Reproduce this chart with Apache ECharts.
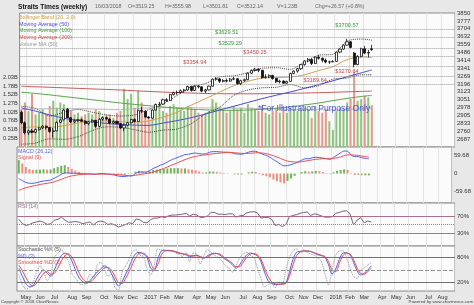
<!DOCTYPE html>
<html><head><meta charset="utf-8">
<script src="https://cdn.jsdelivr.net/npm/echarts@6/dist/echarts.min.js"></script>
<style>html,body{margin:0;padding:0;background:#e8e8e8}#c{width:474px;height:305px}</style>
</head><body><div id="c"></div>
<script>
// ---------- categories ----------
const START_DATE = Date.UTC(2016, 3, 22);   // first weekly bar (Fri 22 Apr 2016)
const WEEK_COUNT = 123;                     // data weeks + future weeks to Aug 2018
const MONTHS = ['Jan','Feb','Mar','Apr','May','Jun','Jul','Aug','Sep','Oct','Nov','Dec'];

// ---------- weekly OHLC ----------
const opens = [2935,2838,2745,2763,2750,2775,2791,2806,2793,2757,2763,2841,2864,2962,2885,2845,2858,2866,2852,2830,2847,2860,2805,2870,2885,2872,2835,2850,2830,2790,2815,2838,2868,2850,2950,2945,2890,2881,2955,3006,3010,3050,3042,3097,3116,3117,3133,3140,3172,3136,3175,3169,3130,3141,3175,3240,3242,3220,3227,3222,3240,3244,3198,3226,3235,3295,3320,3332,3322,3254,3260,3274,3246,3215,3222,3203,3219,3292,3314,3336,3374,3407,3422,3385,3443,3433,3415,3398,3400,3403,3490,3517,3554,3585,3480,3375,3450,3520,3480,3519.25];
const highs = [2950,2850,2775,2780,2785,2800,2815,2812,2800,2790,2850,2875,2965,2975,2890,2870,2875,2880,2860,2855,2870,2865,2880,2895,2895,2880,2860,2858,2835,2830,2845,2875,2880,2960,2985,2950,2900,2960,3015,3030,3060,3065,3105,3125,3135,3145,3150,3180,3180,3185,3185,3172,3150,3180,3245,3260,3250,3240,3245,3250,3260,3248,3235,3245,3300,3330,3345,3340,3325,3285,3285,3280,3250,3235,3230,3225,3300,3320,3345,3380,3415,3435,3430,3450,3465,3440,3430,3410,3415,3495,3525,3560,3612,3590,3490,3460,3530,3545,3510,3555.98];
const lows = [2825,2730,2725,2740,2740,2765,2780,2775,2745,2700,2760,2835,2860,2880,2835,2835,2845,2845,2820,2815,2840,2790,2800,2855,2860,2825,2825,2825,2780,2760,2805,2830,2840,2845,2930,2880,2870,2875,2950,2990,3005,3030,3040,3090,3095,3105,3115,3135,3125,3130,3155,3120,3110,3135,3170,3225,3205,3210,3210,3215,3230,3190,3185,3215,3230,3290,3310,3305,3245,3245,3250,3235,3205,3200,3195,3195,3215,3285,3300,3325,3365,3395,3370,3380,3420,3395,3385,3380,3395,3400,3480,3510,3550,3525,3350,3370,3440,3470,3440,3501.81];
const closes = [2838,2745,2763,2750,2775,2791,2806,2793,2757,2763,2841,2864,2955,2885,2845,2858,2866,2852,2830,2847,2860,2805,2870,2885,2872,2835,2850,2830,2790,2815,2838,2868,2850,2950,2945,2890,2881,2955,3006,3010,3050,3042,3097,3116,3117,3133,3140,3172,3136,3175,3169,3130,3141,3175,3240,3242,3220,3227,3222,3240,3244,3198,3226,3235,3295,3320,3332,3322,3254,3260,3274,3246,3215,3222,3203,3219,3292,3314,3336,3374,3407,3422,3385,3443,3433,3415,3398,3400,3403,3490,3517,3554,3585,3533,3375,3450,3520,3480,3486,3512.14];
// weekly volume, billions
const volumes = [1.10,1.30,1.05,1.55,0.95,1.00,1.10,0.95,1.20,1.35,1.15,1.30,1.25,1.10,1.05,0.95,1.00,0.90,0.95,1.00,0.95,1.10,1.05,0.90,0.95,0.95,0.85,1.00,1.05,1.70,1.40,1.55,1.15,1.65,1.30,0.95,0.80,1.10,1.25,1.20,1.05,1.00,1.20,1.25,1.15,1.10,1.05,1.20,1.15,1.10,1.00,0.95,1.00,1.05,1.40,1.30,1.15,1.10,1.00,1.05,1.20,1.10,1.15,1.00,1.25,1.15,1.10,1.05,1.20,1.00,0.95,1.05,1.10,1.00,1.10,1.00,1.15,1.10,1.05,1.10,1.15,1.10,0.85,1.20,1.05,1.00,1.10,0.75,0.50,1.05,1.15,1.10,1.30,1.40,2.20,1.35,1.40,1.50,1.45,1.22];

// ---------- overlays, sampled every 4 weeks ----------
const overlayIdx = [0,4,8,12,16,20,24,28,32,36,40,44,48,52,56,60,64,68,72,76,80,84,88,92,96,99];
const ma50  = [2975,2945,2910,2880,2860,2845,2832,2822,2816,2814,2835,2858,2885,2918,2955,2990,3025,3060,3092,3122,3155,3190,3225,3262,3298,3325];
const ma100 = [3120,3108,3095,3080,3065,3050,3035,3020,3007,2995,2983,2972,2963,2957,2953,2952,2955,2962,2972,2985,3002,3020,3042,3062,3080,3090];
const ma200 = [3175,3170,3165,3160,3155,3150,3145,3140,3133,3127,3121,3116,3112,3108,3106,3105,3105,3106,3107,3109,3112,3115,3119,3123,3127,3130];
const bbMid = [2790,2800,2795,2810,2835,2850,2855,2848,2842,2855,2890,2935,3000,3060,3120,3180,3220,3250,3255,3260,3280,3320,3355,3420,3445,3440];
const bbUp  = [2990,2970,2900,2935,2960,2935,2910,2900,2910,2960,3010,3090,3170,3200,3260,3270,3300,3340,3345,3330,3400,3460,3470,3590,3610,3600];
const bbLow = [2640,2650,2690,2685,2710,2765,2800,2796,2774,2750,2770,2780,2830,2920,2980,3090,3140,3160,3165,3190,3160,3180,3240,3250,3280,3280];
const volMA = [1.10,1.11,1.12,1.12,1.12,1.11,1.10,1.09,1.12,1.14,1.15,1.15,1.15,1.14,1.14,1.13,1.13,1.12,1.11,1.10,1.10,1.09,1.08,1.09,1.12,1.14];

// ---------- MACD ----------
const macd = [-17,-24,-30,-33,-33,-31,-28,-25,-24,-22,-16,-10,-3,2,2,1,1,0,-1,-1,-1,-3,-2,0,0,-2,-3,-5,-8,-10,-10,-8,-8,0,5,5,5,10,17,22,28,32,39,45,50,55,59,64,65,68,69,67,66,67,72,74,74,73,72,72,71,67,66,65,68,72,75,75,70,65,61,55,47,40,32,26,27,30,34,39,45,50,50,53,55,54,52,50,48,55,62,70,76,75,62,57,57,53,51,50];
const signal = [-57,-52,-48,-45,-42,-40,-37,-35,-33,-31,-28,-24,-20,-15,-11,-8,-6,-4,-3,-2,-2,-2,-2,-2,-2,-2,-2,-3,-4,-5,-6,-7,-7,-6,-4,-2,0,2,5,9,13,17,22,27,32,37,42,47,51,55,58,60,62,63,65,67,68,69,70,71,71,70,69,68,68,68,69,70,70,69,67,64,60,56,51,46,42,40,39,39,40,42,44,46,48,49,50,50,50,51,53,56,60,63,63,62,61,59,57,56];
const hist = [45,34,22,15,12,13,13,14,13,14,18,22,26,28,22,15,10,6,3,2,1,-1,0,2,2,0,-1,-2,-4,-5,-4,-1,-1,6,9,7,5,8,12,13,15,15,17,18,18,18,17,17,14,13,11,7,4,4,7,7,6,4,2,1,0,-3,-3,-3,0,4,6,5,-2,-6,-9,-13,-20,-26,-30,-33,-25,-17,-8,0,5,8,6,7,9,8,5,2,-2,4,9,12,14,12,-2,-5,-4,-6,-6,-6];

// ---------- RSI / Stochastic ----------
const rsi = [62,52,48,50,54,56,58,55,50,52,60,62,67,60,55,56,57,55,52,54,56,49,56,58,56,50,52,49,44,47,50,54,52,63,61,55,54,61,65,65,68,66,70,72,72,73,74,76,70,74,72,66,67,70,78,78,74,74,73,75,75,67,70,71,77,79,80,77,65,66,67,62,48,50,45,50,68,71,73,76,78,79,71,75,73,70,67,67,68,76,78,81,82,75,49,60,66,54,58,56];
const stochK = [40,15,5,8,20,45,60,45,25,40,80,90,98,82,70,40,30,18,15,22,40,30,62,68,55,35,40,8,2,45,60,75,95,98,85,82,55,38,60,100,98,95,97,95,90,88,82,92,70,90,88,65,85,98,92,85,80,72,60,55,45,60,78,88,92,85,80,55,30,10,15,20,8,22,18,50,80,95,100,90,98,92,88,85,78,70,40,15,50,85,95,96,80,55,35,30,48,55,62,68];
const stochD = [54,35,18,10,12,28,42,50,42,35,50,70,85,90,86,70,48,30,22,18,25,35,45,52,60,55,42,25,12,22,40,57,78,90,92,88,80,55,48,75,95,97,96,96,93,90,88,86,82,84,85,80,78,84,88,90,88,82,75,70,62,54,62,75,86,90,88,84,70,45,25,18,15,16,17,20,45,75,92,94,95,95,94,90,86,84,80,62,40,52,75,90,91,86,68,48,38,42,50,60];
const stochSD = [62,48,32,18,12,18,30,42,46,40,42,55,72,84,88,80,62,42,28,22,22,28,38,47,55,56,50,35,20,18,30,46,65,82,90,90,84,68,52,62,85,95,96,95,94,91,89,87,84,83,84,82,79,81,86,89,89,85,78,72,66,58,58,68,80,88,89,86,76,55,35,22,17,16,16,18,35,62,84,93,95,95,94,91,88,85,82,70,50,46,65,84,90,88,75,55,42,40,46,54];

// ---------- tick labels & annotations ----------
const priceTicks = [2687,2760,2833,2905,2978,3051,3123,3196,3269,3341,3414,3486,3559,3632,3704,3777,3850];
const volTicks = ['0.25B','0.51B','0.76B','1.02B','1.27B','1.52B','1.78B','2.03B'];
const levels = [3700.57,3629.51,3529.29,3450.25,3354.94,3270.64,3189.64];
const levelLabelWeek = [92,58,59,66,49,92,83];

// ---------- build ----------
const weeks = [];
for (let i = 0; i < WEEK_COUNT; i++) weeks.push(new Date(START_DATE + i * 7 * 864e5));
const cats = weeks.map(d => d.toISOString().slice(0, 10));
const monthStart = weeks.map((d, i) => i > 0 && d.getUTCMonth() !== weeks[i - 1].getUTCMonth());
const lastClose = closes[closes.length - 1];
const FONT = 'Liberation Sans, Arial, sans-serif';

const P_MIN = 2614.3125, P_INT = 72.6875, V_INT = 0.25375;
const M_INT = 9.946667;

function xAxis(gi, labels) {
  return {
    type: 'category', gridIndex: gi, data: cats, boundaryGap: true,
    axisLine: {show: false}, axisTick: {show: false},
    axisLabel: labels ? {
      show: true, interval: (i) => monthStart[i], fontSize: 5.6, color: '#333', margin: 3, fontFamily: FONT,
      formatter: (v, i) => { const d = weeks[i]; return d.getUTCMonth() === 0 ? String(d.getUTCFullYear()) : MONTHS[d.getUTCMonth()]; }
    } : {show: false},
    splitLine: {show: true, interval: (i) => monthStart[i], lineStyle: {color: '#e4e4e4', width: 1}}
  };
}
const lab = {fontSize: 6, color: '#333', fontFamily: FONT, margin: 2};
function yBase(gi, pos, extra) {
  return Object.assign({type: 'value', gridIndex: gi, position: pos, axisLine: {show: false}, axisTick: {show: false}, splitLine: {show: false}}, extra);
}
const pairs = (vals) => overlayIdx.map((k, j) => [cats[k], vals[j]]);
const line = (name, vals, xi, yi, color, type, width) => ({
  name, type: 'line', xAxisIndex: xi, yAxisIndex: yi, data: vals, symbol: 'none', smooth: 0.3, silent: true,
  lineStyle: {color, width: width || 1, type: type || 'solid'}, z: 4
});

const candleData = opens.map((o, i) => [o, closes[i], lows[i], highs[i]]);
const volData = volumes.map((v, i) => ({value: v, itemStyle: {color: closes[i] >= opens[i] ? '#8cc47c' : '#e5988a'}}));
const histData = hist.map((h, i) => ({value: h, itemStyle: {color: (i === 0 || h >= hist[i - 1]) ? '#6fb455' : '#ee8e7c'}}));

const option = {
  animation: false,
  backgroundColor: '#e8e8e8',
  grid: [
    {left: 17, right: 19, top: 13, height: 134, show: true, backgroundColor: '#fbfbfb', borderColor: '#8a8a8a', borderWidth: 1},
    {left: 17, right: 19, top: 147, height: 56, show: true, backgroundColor: '#fbfbfb', borderColor: '#8a8a8a', borderWidth: 1},
    {left: 17, right: 19, top: 203, height: 43, show: true, backgroundColor: '#fbfbfb', borderColor: '#8a8a8a', borderWidth: 1},
    {left: 17, right: 19, top: 246, height: 45, show: true, backgroundColor: '#fbfbfb', borderColor: '#8a8a8a', borderWidth: 1}
  ],
  xAxis: [xAxis(0, false), xAxis(1, false), xAxis(2, false), xAxis(3, true)],
  yAxis: [
    yBase(0, 'right', {min: P_MIN, max: 3850, interval: P_INT, axisLabel: Object.assign({}, lab, {
      formatter: (v) => { const k = Math.round((v - P_MIN) / P_INT) - 1; return k >= 0 && k < priceTicks.length ? String(priceTicks[k]) : ''; }})}),
    yBase(0, 'left', {min: 0, max: 3.914, interval: V_INT, axisLabel: Object.assign({}, lab, {fontSize: 5.6,
      formatter: (v) => { const k = Math.round(v / V_INT) - 1; return k >= 0 && k < volTicks.length ? volTicks[k] : ''; }})}),
    yBase(1, 'right', {min: -10 * M_INT, max: 9 * M_INT, interval: M_INT, axisLabel: Object.assign({}, lab, {
      formatter: (v) => Math.abs(v) < 1 ? '0' : (Math.abs(Math.abs(v) - 59.68) < 0.5 ? (v < 0 ? '-59.68' : '59.68') : '')})}),
    yBase(2, 'right', {min: 0, max: 100, interval: 10, axisLabel: Object.assign({}, lab, {
      formatter: (v) => (v === 30 || v === 70) ? v + '%' : ''})}),
    yBase(3, 'right', {min: 0, max: 107, interval: 10, axisLabel: Object.assign({}, lab, {
      formatter: (v) => (v === 20 || v === 80) ? v + '%' : ''})})
  ],
  series: [
    {name: 'Volume', type: 'bar', xAxisIndex: 0, yAxisIndex: 1, data: volData, barWidth: 2, silent: true, z: 1},
    line('Volume MA', pairs(volMA), 0, 1, '#a8a8a8', 'solid', 0.8),
    line('MA200', pairs(ma200), 0, 0, '#cc5a5a'),
    line('MA100', pairs(ma100), 0, 0, '#58a848'),
    line('MA50', pairs(ma50), 0, 0, '#4a4ad8'),
    line('BB mid', pairs(bbMid), 0, 0, '#d2a050'),
    line('BB up', pairs(bbUp), 0, 0, '#444', 'dotted'),
    line('BB low', pairs(bbLow), 0, 0, '#444', 'dotted'),
    {name: 'Price', type: 'candlestick', xAxisIndex: 0, yAxisIndex: 0, data: candleData, barWidth: 2.6, z: 6, silent: true,
     itemStyle: {color: '#ffffff', color0: '#111', borderColor: '#111', borderColor0: '#111', borderWidth: 0.8},
     markLine: {silent: true, symbol: ['none', 'none'], label: {show: false},
       lineStyle: {color: '#9a9a9a', type: 'dotted', width: 1},
       data: levels.map(v => ({yAxis: v}))},
     markPoint: {silent: true, symbol: 'rect', symbolSize: 0,
       data: levels.map((v, j) => ({coord: [cats[levelLabelWeek[j]], v],
         label: {show: true, position: 'top', distance: 1, formatter: '$' + v.toFixed(2), fontSize: 5.6, fontFamily: FONT,
           color: v > lastClose ? '#3a9a3a' : '#c84848'}}))}
    },
    {name: 'Hist', type: 'bar', xAxisIndex: 1, yAxisIndex: 2, data: histData, barWidth: 2, silent: true, z: 1},
    line('MACD', macd, 1, 2, '#4f5fe6'),
    line('Signal', signal, 1, 2, '#e85050'),
    Object.assign(line('RSI', rsi, 2, 3, '#6e506e', 'solid', 0.9), {smooth: false,
      markLine: {silent: true, symbol: ['none', 'none'], label: {show: false}, data: [
        {yAxis: 70, lineStyle: {color: '#a8708c', type: 'solid', width: 1}},
        {yAxis: 30, lineStyle: {color: '#a8708c', type: 'solid', width: 1}},
        {yAxis: 50, lineStyle: {color: '#c07070', type: 'dotted', width: 1}}]}}),
    Object.assign(line('%K', stochK, 3, 4, '#8a8a8a', 'dotted', 0.9), {
      markLine: {silent: true, symbol: ['none', 'none'], label: {show: false}, data: [
        {yAxis: 80, lineStyle: {color: '#707070', type: 'solid', width: 1}},
        {yAxis: 20, lineStyle: {color: '#707070', type: 'solid', width: 1}},
        {yAxis: 50, lineStyle: {color: '#909090', type: 'dashed', width: 1}}]}}),
    line('%D', stochD, 3, 4, '#5060ea'),
    line('Smoothed %D', stochSD, 3, 4, '#ea4a4a')
  ],
  graphic: [
    ...[
      ['Straits Times (weekly)', 18, 6.8, '#111', 6.6, 'bold'],
      ['16/03/2018', 95, 6.8, '#666', 5.3], ['O=3519.25', 128, 6.8, '#666', 5.3],
      ['H=3555.98', 165, 6.8, '#666', 5.3], ['L=3501.81', 203, 6.8, '#666', 5.3],
      ['C=3512.14', 237, 6.8, '#666', 5.3], ['V=1.23B', 277, 6.8, '#666', 5.3],
      ['Chg=+26.57 (+0.8%)', 315, 6.8, '#666', 5.3],
      ['Bollinger Band (20, 2.0)', 19, 17.3, '#d2a050', 5.4], ['Moving Average (50)', 19, 24.3, '#4a4ad8', 5.4],
      ['Moving Average (100)', 19, 31, '#48a048', 5.4], ['Moving Average (200)', 19, 37.7, '#cc5a5a', 5.4],
      ['Volume MA (50)', 19, 44.3, '#999', 5.4],
      ['MACD (26,12)', 18, 151.5, '#4f5fe6', 5.4], ['Signal (9)', 18, 157.8, '#e85050', 5.4],
      ['RSI (14)', 18, 207, '#906c90', 5.4],
      ['Stochastic %K (5)', 18, 250, '#555', 5.4], ['%D (3)', 18, 256.3, '#5060ea', 5.4],
      ['Smoothed %D (3)', 18, 263, '#ea4a4a', 5.4],
      ['Copyright \u00a9 2018 ChartNexus', 1, 301.5, '#444', 4.3]
    ].map(t => ({type: 'text', x: t[1], y: t[2], silent: true, z: 100,
      style: {text: t[0], fill: t[3], fontSize: t[4], fontWeight: t[5] || 'normal', fontFamily: FONT, align: 'left', verticalAlign: 'middle'}})),
    {type: 'text', x: 473, y: 301.8, silent: true, z: 100,
     style: {text: 'Powered by www.chartnexus.com', fill: '#444', fontSize: 4.3, fontFamily: FONT, align: 'right', verticalAlign: 'middle'}},
    {type: 'text', x: 258, y: 108.5, silent: true, z: 100,
     style: {text: '*For Illustration Purpose Only', fill: '#4a56c8', fontSize: 8.6, fontFamily: FONT, align: 'left', verticalAlign: 'middle'}}
  ]
};
echarts.init(document.getElementById('c'), null, {renderer: 'canvas'}).setOption(option);
</script></body></html>
